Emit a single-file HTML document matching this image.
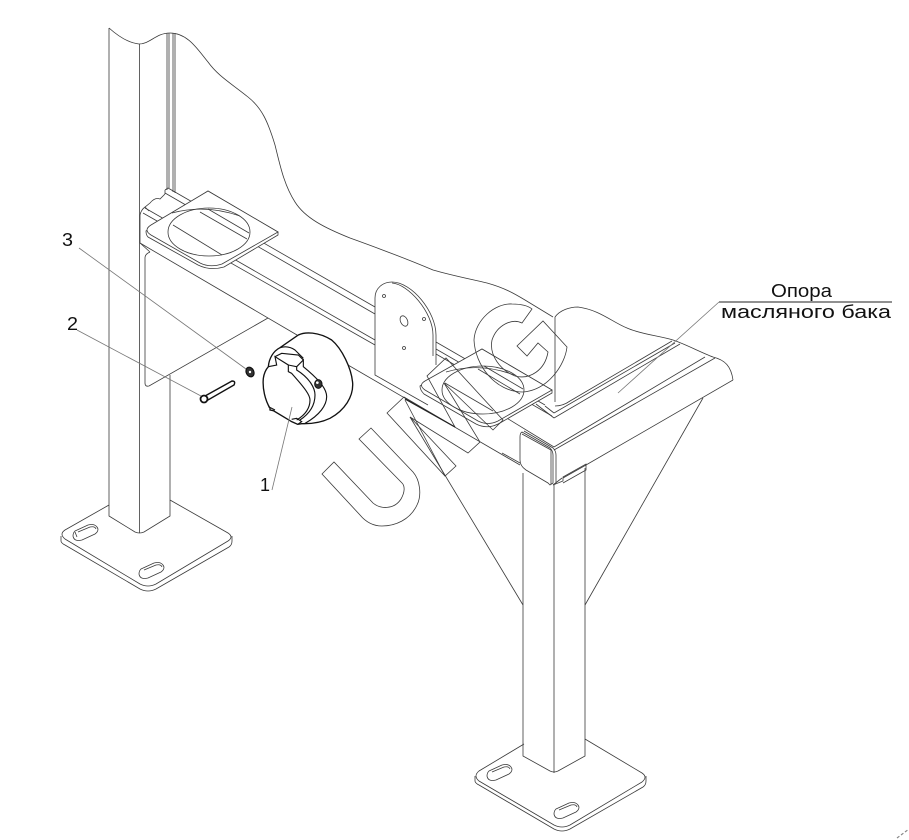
<!DOCTYPE html>
<html><head><meta charset="utf-8"><style>
html,body{margin:0;padding:0;background:#fff;width:909px;height:840px;overflow:hidden}
svg{display:block}
.l{fill:none;stroke:#3a3a3a;stroke-width:.8}
.w{fill:#fff;stroke:#3a3a3a;stroke-width:.8}
.g{fill:none;stroke:#777;stroke-width:.8}
.k{fill:none;stroke:#111;stroke-width:3.4}
.kw{fill:#fff;stroke:#111;stroke-width:4}
text{font-family:"Liberation Sans","DejaVu Sans",sans-serif;fill:#111}
</style></head><body>
<svg width="909" height="840" viewBox="0 0 909 840" xmlns="http://www.w3.org/2000/svg">
<!-- wavy break line -->
<path class="l" d="M109,28 C118,36 128,43 139,44 C150,44 156,33 170,33 C188,33 198,50 208,62 C218,76 232,84 248,97 C262,108 268,122 275,145 C280,165 284,185 295,202 C305,218 325,228 350,238 C375,247 400,256 433,270 C450,275 470,279 487,283 C505,288 515,294 525,300 L553,317"/>
<path class="l" d="M555,317 C560,310 570,307 578,307 C600,310 612,322 627,328 C640,334 660,336 673,340 C685,344 700,352 713,357 C725,360 731,366 733,380"/>
<!-- left post -->
<path class="l" d="M109,28 V516 L135,532 Q139.5,534 144,532 L170,516 V375"/>
<path class="l" d="M139.5,44 V533"/>
<!-- back rails vertical -->
<path class="l" d="M167,33 V190 M169,33 V188 M173,33 V192 M175,33 V193"/>
<path class="l" d="M165,190 L168,188 M165,190 V194"/>
<path class="l" d="M140,215 Q141,210 145,207 L150,203 Q155,197 160,199 L165,194"/>
<path class="l" d="M145,207 L149,211"/>
<!-- rails -->
<path class="l" d="M168,188 L375,307 M165,193 L375,314"/>
<path class="l" d="M145,208 L375,340 M143,213 L375,345"/>
<path class="l" d="M436,342 L545,405 M436,349 L552,416 M436,354 L505,394"/>
<!-- beam lower edge -->
<path class="l" d="M140,243 L297,335 M348,365 L520,465"/>
<path class="l" d="M150,252 Q145,254 145,258 V383 Q145,387 149,386 L268,318"/>
<path class="l" d="M140,215 V243 L150,252"/>
<!-- plate 1 -->
<path class="w" d="M278,232 V235 L224,267 Q210,271 198,265 L148,237 Q146,235 146,231 L208,191 Z"/>
<path class="w" d="M208,191 L278,232 L222,264 Q210,268 200,263 L151,235 Q143,230 151,225 Z"/>
<ellipse class="w" cx="209" cy="232" rx="41" ry="24"/>
<path class="l" d="M172,213 Q205,204 240,216"/>
<path class="l" d="M173,225 L222,255 M200,212 L247,239 M208,209 L249,233"/>
<!-- bracket -->
<path fill="#fff" d="M375,375 V298 C375,288 383,282 392,282 C412,282 436,312 436,335 V365 L428,405 Z"/>
<path class="l" d="M428,405 L375,375 V298 C375,288 383,282 392,282 C412,282 436,312 436,335 V365"/>
<path class="l" d="M392,283 C408,284 433,312 433,335 V356"/>
<circle class="l" cx="384" cy="296" r="1.5"/>
<ellipse class="l" cx="404" cy="321" rx="3.5" ry="5.5" transform="rotate(-25 404 321)"/>
<circle class="l" cx="424" cy="319" r="1.5"/>
<circle class="l" cx="404" cy="348" r="1.5"/>
<!-- inner frame of right part -->
<path class="l" d="M555,317 V402"/>
<path class="l" d="M555,406 Q563,406 570,401 L672,341 M554,413 L675,343 M554,418 L680,344"/>
<path class="l" d="M536,404 L554,418 M545,406 L554,413"/>
<path class="l" d="M554,447 L705,357 M554,450 L715,358"/>
<path class="l" d="M505,417 L554,447"/>
<path class="l" d="M733,380 L586,465 L563,478"/>
<!-- plate 2 -->
<path class="w" d="M552,390 V393 L500,423 Q488,430 476,424 L424,394 Q420,390 420,386 L482,349 Z"/>
<path class="w" d="M482,349 L552,390 L498,421 Q488,426 478,421 L425,390 Q418,385 425,381 Z"/>
<ellipse class="w" cx="483" cy="390" rx="41" ry="24"/>
<path class="l" d="M446,372 Q480,362 514,375"/>
<path class="l" d="M445,383 L493,411 M478,369 L520,394 M484,366 L523,389"/>
<!-- corner cap -->
<path class="w" d="M522,432 L550,448 Q553,451 553,455 V483 L550,485 L548,483 L526,470 Q520,466 520,460 V437 Q520,433 522,432 Z"/>
<path class="l" d="M524,431 L553,448 Q556,451 556,455 V483 M522,434 L551,450 M551,450 V484"/>
<path class="l" d="M553,485 L563,481 V477 L586,464 V470 L563,483 M553,485 L562,478"/>
<path class="l" d="M502,453 L520,463"/>
<!-- right post -->
<path class="l" d="M523,473 V756 L550,771 Q554,773 558,771 L585,756 V468"/>
<path class="l" d="M554,485 V773"/>
<!-- gussets -->
<path class="l" d="M410,417 L523,605"/>
<path class="l" d="M703,398 L585,605"/>
<path class="l" d="M405,400 L445,476"/>
<!-- left foot -->
<path class="l" d="M109,505 L65,530 Q59,534 65,539 L140,584 Q148,588 156,584 L228,541 Q234,537 228,533 L170,500"/>
<path class="l" d="M61,536 V541 Q61,543 65,545 L140,589 Q148,593 156,589 L229,547 Q232,545 232,541 V536"/>
<g id="s1"><path class="l" d="M75,531 L88,525 Q96,523 98,529 Q98,532 95,534 L82,540 Q74,542 73,536 Q73,533 75,531 Z"/><path class="l" d="M77,537 L75,532 M78,532 L90,527 Q95,526 96,529"/></g>
<g transform="translate(66 38)"><path class="l" d="M75,531 L88,525 Q96,523 98,529 Q98,532 95,534 L82,540 Q74,542 73,536 Q73,533 75,531 Z"/><path class="l" d="M78,532 L90,527 Q95,526 96,529"/></g>
<!-- right foot -->
<path class="l" d="M524,744 L479,771 Q473,776 479,781 L554,825 Q562,829 570,825 L642,782 Q648,777 642,773 L585,739"/>
<path class="l" d="M475,776 V781 Q475,783 479,785 L554,829 Q562,833 570,829 L643,787 Q646,785 646,781 V776"/>
<g transform="translate(414 240)"><path class="l" d="M75,531 L88,525 Q96,523 98,529 Q98,532 95,534 L82,540 Q74,542 73,536 Q73,533 75,531 Z"/><path class="l" d="M78,532 L90,527 Q95,526 96,529"/></g>
<g transform="translate(481 278)"><path class="l" d="M75,531 L88,525 Q96,523 98,529 Q98,532 95,534 L82,540 Q74,542 73,536 Q73,533 75,531 Z"/><path class="l" d="M78,532 L90,527 Q95,526 96,529"/></g>
<!-- watermark -->
<path class="l" d="M322,474 L334,462 L373,503 C380,509 394,510 401,499 C405,492 405,486 402,483 L359,439 L371,428 L413,472 C420,480 422,495 417,505 C410,520 395,526 382,526 C372,526 365,521 360,515 Z"/>
<path class="l" d="M387,413 L404,397 L455,427 L427,376 L446,358 L503,420 L493,430 L444,383 L480,442 L468,453 L410,417 L456,466 L445,476 Z"/>
<path class="l" d="M532,309 L522,323 C512,318 497,325 492,340 C489,355 500,370 515,376 C530,380 545,370 548,352 L538,343 L527,356 L517,346 L543,321 L567,347 C565,365 548,390 523,392 C495,392 475,365 474,340 C475,320 495,303 512,304 C520,304 527,305 532,309 Z"/>
<path d="M405,399 L455,427" stroke="#222" stroke-width="1.2" fill="none"/>
<!-- connector -->
<g transform="translate(255 325) scale(.33333)">
<path class="kw" d="M40,125 C42,100 55,78 75,68 L130,30 C150,20 190,20 230,45 C260,70 290,130 293,175 C295,215 270,255 225,280 C200,292 170,297 140,296 L128,298 L110,290 L55,257 L45,255 L45,250 C30,225 22,190 25,160 C27,145 33,133 40,125 Z"/>
<path class="k" d="M40,125 L65,120 L60,95 L100,120 V140 L110,145 C150,190 165,210 165,225 C165,250 150,270 125,285"/>
<path class="k" d="M100,120 L125,125 V135 C165,160 180,190 180,210 C180,240 165,265 135,285"/>
<path class="k" d="M125,125 L145,105 V125 C200,170 215,195 215,215 C215,240 195,270 150,295"/>
<path class="k" d="M60,95 L80,85 L130,90 L145,105"/>
<path class="k" d="M75,68 C95,62 110,68 120,75 L145,100"/>
<path class="k" d="M110,283 L125,280 L140,290 L128,298"/>
<path class="k" d="M40,245 L60,255"/>
<ellipse cx="190" cy="177" rx="11" ry="13" fill="#333" stroke="#111" stroke-width="3"/>
<circle cx="187" cy="173" r="4" fill="#fff"/>
</g>
<!-- bolt -->
<path fill="#fff" stroke="#111" stroke-width="1.4" d="M205,396 L232,381 Q236,381 234,385 L208,400 Z"/>
<circle cx="204" cy="399" r="3.5" fill="#fff" stroke="#111" stroke-width="1.8"/>
<!-- washer -->
<ellipse cx="250" cy="372" rx="3.8" ry="5" fill="#333" stroke="#111" stroke-width="1.2" transform="rotate(-25 250 372)"/>
<circle cx="250" cy="372" r="1.2" fill="#fff"/>
<!-- leaders -->
<path class="g" d="M79,248 L246,369"/>
<path class="g" d="M77,330 L201,396"/>
<path class="g" d="M272,490 L292,407"/>
<path class="g" d="M618,393 L719,302"/>
<path d="M719,302 H892" stroke="#222" stroke-width="1" fill="none"/>
<!-- labels -->
<text x="62" y="246" font-size="18" textLength="11" lengthAdjust="spacingAndGlyphs">3</text>
<text x="67" y="330" font-size="18" textLength="11" lengthAdjust="spacingAndGlyphs">2</text>
<text x="260" y="491" font-size="18">1</text>
<text x="771" y="297" font-size="18" textLength="61" lengthAdjust="spacingAndGlyphs">Опора</text>
<text x="721" y="318" font-size="18" textLength="170" lengthAdjust="spacingAndGlyphs">масляного бака</text>
<!-- stray dashes -->
<path d="M897,838 L909,829" stroke="#888" stroke-width="1.2" stroke-dasharray="3 2" fill="none"/>
</svg>
</body></html>
